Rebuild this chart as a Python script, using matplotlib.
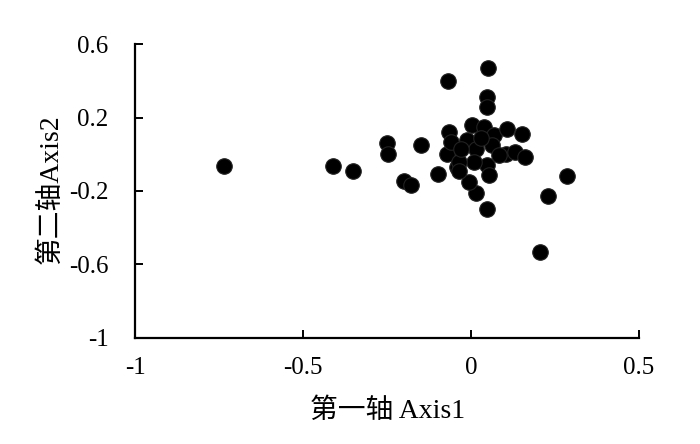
import matplotlib
matplotlib.use('Agg')
import matplotlib.pyplot as plt

# ordination scores
axis1 = [-0.735, -0.41, -0.352, -0.25, -0.247, -0.148, -0.20, -0.178, -0.10,
         0.048, 0.015, -0.006, -0.042, -0.072, -0.066, -0.06, 0.003, 0.039,
         -0.012, 0.015, 0.069, 0.063, 0.108, 0.15, 0.105, 0.13, 0.16, 0.048,
         0.054, 0.009, 0.084, -0.036, -0.069, 0.051, 0.048, 0.048, 0.286,
         0.229, 0.205, -0.036, 0.03, -0.03]
axis2 = [-0.066, -0.066, -0.093, 0.06, 0.0, 0.05, -0.148, -0.17, -0.11,
         -0.30, -0.21, -0.153, -0.07, 0.0, 0.12, 0.066, 0.158, 0.148,
         0.076, 0.027, 0.104, 0.049, 0.137, 0.11, 0.0, 0.01, -0.016, -0.06,
         -0.115, -0.044, -0.005, -0.044, 0.40, 0.47, 0.31, 0.26, -0.12,
         -0.23, -0.53, -0.09, 0.09, 0.03]

xticks = [-1, -0.5, 0, 0.5]
yticks = [-1, -0.6, -0.2, 0.2, 0.6]

fam = ['Liberation Serif', 'Noto Sans CJK SC']
plt.rcParams['font.family'] = fam

fig = plt.figure(figsize=(7, 4.44), dpi=100)
ax = fig.add_axes([0.193, 0.239, 0.72, 0.67])

ax.scatter(axis1, axis2, s=125, color='black', edgecolors='#222222', linewidths=0.8, zorder=3)

ax.set_xlim(-1, 0.5)
ax.set_ylim(-1, 0.62)
ax.set_xticks(xticks)
ax.set_xticklabels(['-1', '-0.5', '0', '0.5'])
ax.set_yticks(yticks)
ax.set_yticklabels(['-1', '-0.6', '-0.2', '0.2', '0.6'])

for s in ['top', 'right']:
    ax.spines[s].set_visible(False)
for s in ['left', 'bottom']:
    ax.spines[s].set_linewidth(1.6)
ax.spines['left'].set_bounds(-1, 0.6)

ax.tick_params(axis='y', direction='in', length=6, width=1.4, labelsize=18, pad=19)
ax.tick_params(axis='x', direction='in', length=6, width=1.4, labelsize=18, pad=14)

ax.set_xlabel('第一轴 Axis1', fontsize=20, labelpad=14)
ax.set_ylabel('第二轴Axis2', fontsize=20, labelpad=4)

fig.savefig('out.png', dpi=100)
